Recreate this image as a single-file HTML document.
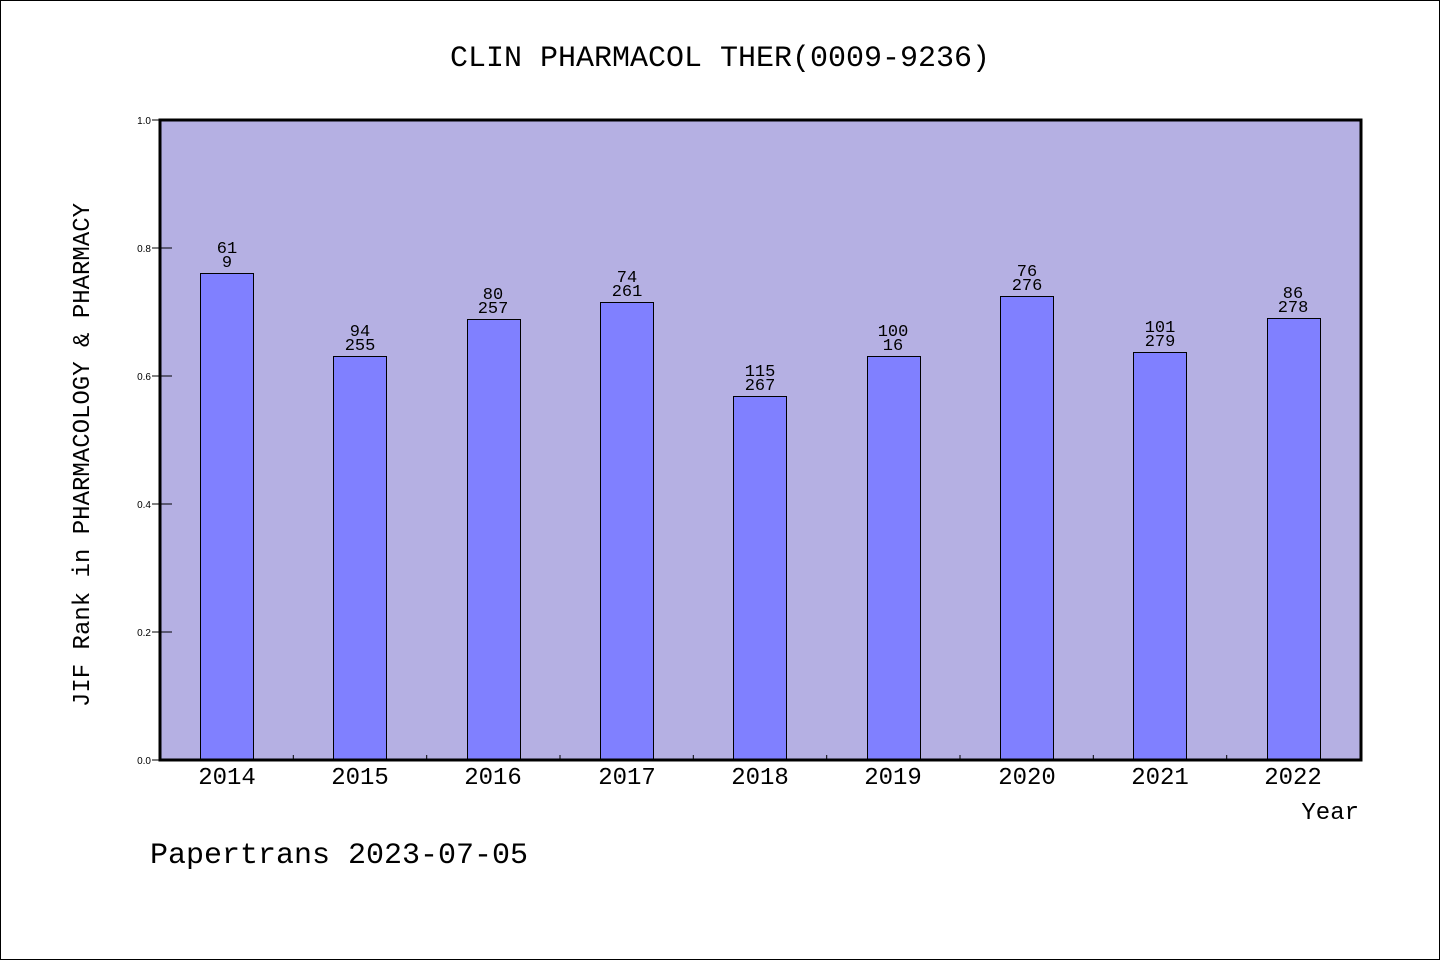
<!DOCTYPE html>
<html><head><meta charset="utf-8"><style>
html,body{margin:0;padding:0;background:#fff;}
svg{display:block;}
text{font-family:"Liberation Mono",monospace;fill:#000;}
text.s{font-family:"Liberation Sans",sans-serif;}
</style></head><body>
<svg width="1440" height="960" viewBox="0 0 1440 960" xmlns="http://www.w3.org/2000/svg">
<rect x="0.5" y="0.5" width="1439" height="959" fill="#fff" stroke="#000" stroke-width="1"/>
<text x="720" y="66" font-size="30" text-anchor="middle">CLIN PHARMACOL THER(0009-9236)</text>
<rect x="160" y="120" width="1201" height="640" fill="#b5b0e3"/>
<g stroke="#000" stroke-width="1">
<line x1="152" y1="760" x2="160" y2="760"/><line x1="152" y1="632" x2="160" y2="632"/><line x1="152" y1="504" x2="160" y2="504"/><line x1="152" y1="376" x2="160" y2="376"/><line x1="152" y1="248" x2="160" y2="248"/><line x1="152" y1="120" x2="160" y2="120"/>
<line x1="160" y1="632" x2="172" y2="632"/><line x1="160" y1="504" x2="172" y2="504"/><line x1="160" y1="376" x2="172" y2="376"/><line x1="160" y1="248" x2="172" y2="248"/>
<line x1="293.3" y1="760" x2="293.3" y2="755"/><line x1="426.7" y1="760" x2="426.7" y2="755"/><line x1="560" y1="760" x2="560" y2="755"/><line x1="693.3" y1="760" x2="693.3" y2="755"/><line x1="826.7" y1="760" x2="826.7" y2="755"/><line x1="960" y1="760" x2="960" y2="755"/><line x1="1093.3" y1="760" x2="1093.3" y2="755"/><line x1="1226.7" y1="760" x2="1226.7" y2="755"/>
</g>
<g font-size="10" text-anchor="end">
<text class="s" x="151" y="764">0.0</text><text class="s" x="151" y="636">0.2</text><text class="s" x="151" y="508">0.4</text><text class="s" x="151" y="380">0.6</text><text class="s" x="151" y="252">0.8</text><text class="s" x="151" y="124">1.0</text>
</g>
<g fill="#8080ff" stroke="#000" stroke-width="1">
<rect x="200.5" y="273.5" width="53" height="487"/>
<rect x="333.5" y="356.5" width="53" height="404"/>
<rect x="467.5" y="319.5" width="53" height="441"/>
<rect x="600.5" y="302.5" width="53" height="458"/>
<rect x="733.5" y="396.5" width="53" height="364"/>
<rect x="867.5" y="356.5" width="53" height="404"/>
<rect x="1000.5" y="296.5" width="53" height="464"/>
<rect x="1133.5" y="352.5" width="53" height="408"/>
<rect x="1267.5" y="318.5" width="53" height="442"/>
</g>
<g font-size="17" text-anchor="middle">
<text x="227" y="253">61</text><text x="227" y="267">9</text>
<text x="360" y="336">94</text><text x="360" y="350">255</text>
<text x="493" y="299">80</text><text x="493" y="313">257</text>
<text x="627" y="282">74</text><text x="627" y="296">261</text>
<text x="760" y="376">115</text><text x="760" y="390">267</text>
<text x="893" y="336">100</text><text x="893" y="350">16</text>
<text x="1027" y="276">76</text><text x="1027" y="290">276</text>
<text x="1160" y="332">101</text><text x="1160" y="346">279</text>
<text x="1293" y="298">86</text><text x="1293" y="312">278</text>
</g>
<rect x="160" y="120" width="1201" height="640" fill="none" stroke="#000" stroke-width="3"/>
<g font-size="24" text-anchor="middle">
<text x="227" y="784">2014</text><text x="360" y="784">2015</text><text x="493" y="784">2016</text><text x="627" y="784">2017</text><text x="760" y="784">2018</text><text x="893" y="784">2019</text><text x="1027" y="784">2020</text><text x="1160" y="784">2021</text><text x="1293" y="784">2022</text>
</g>
<text x="1359" y="819" font-size="24" text-anchor="end">Year</text>
<text transform="translate(89,455) rotate(-90)" font-size="24" text-anchor="middle">JIF Rank in PHARMACOLOGY &amp; PHARMACY</text>
<text x="150" y="863" font-size="30">Papertrans 2023-07-05</text>
</svg>
</body></html>
